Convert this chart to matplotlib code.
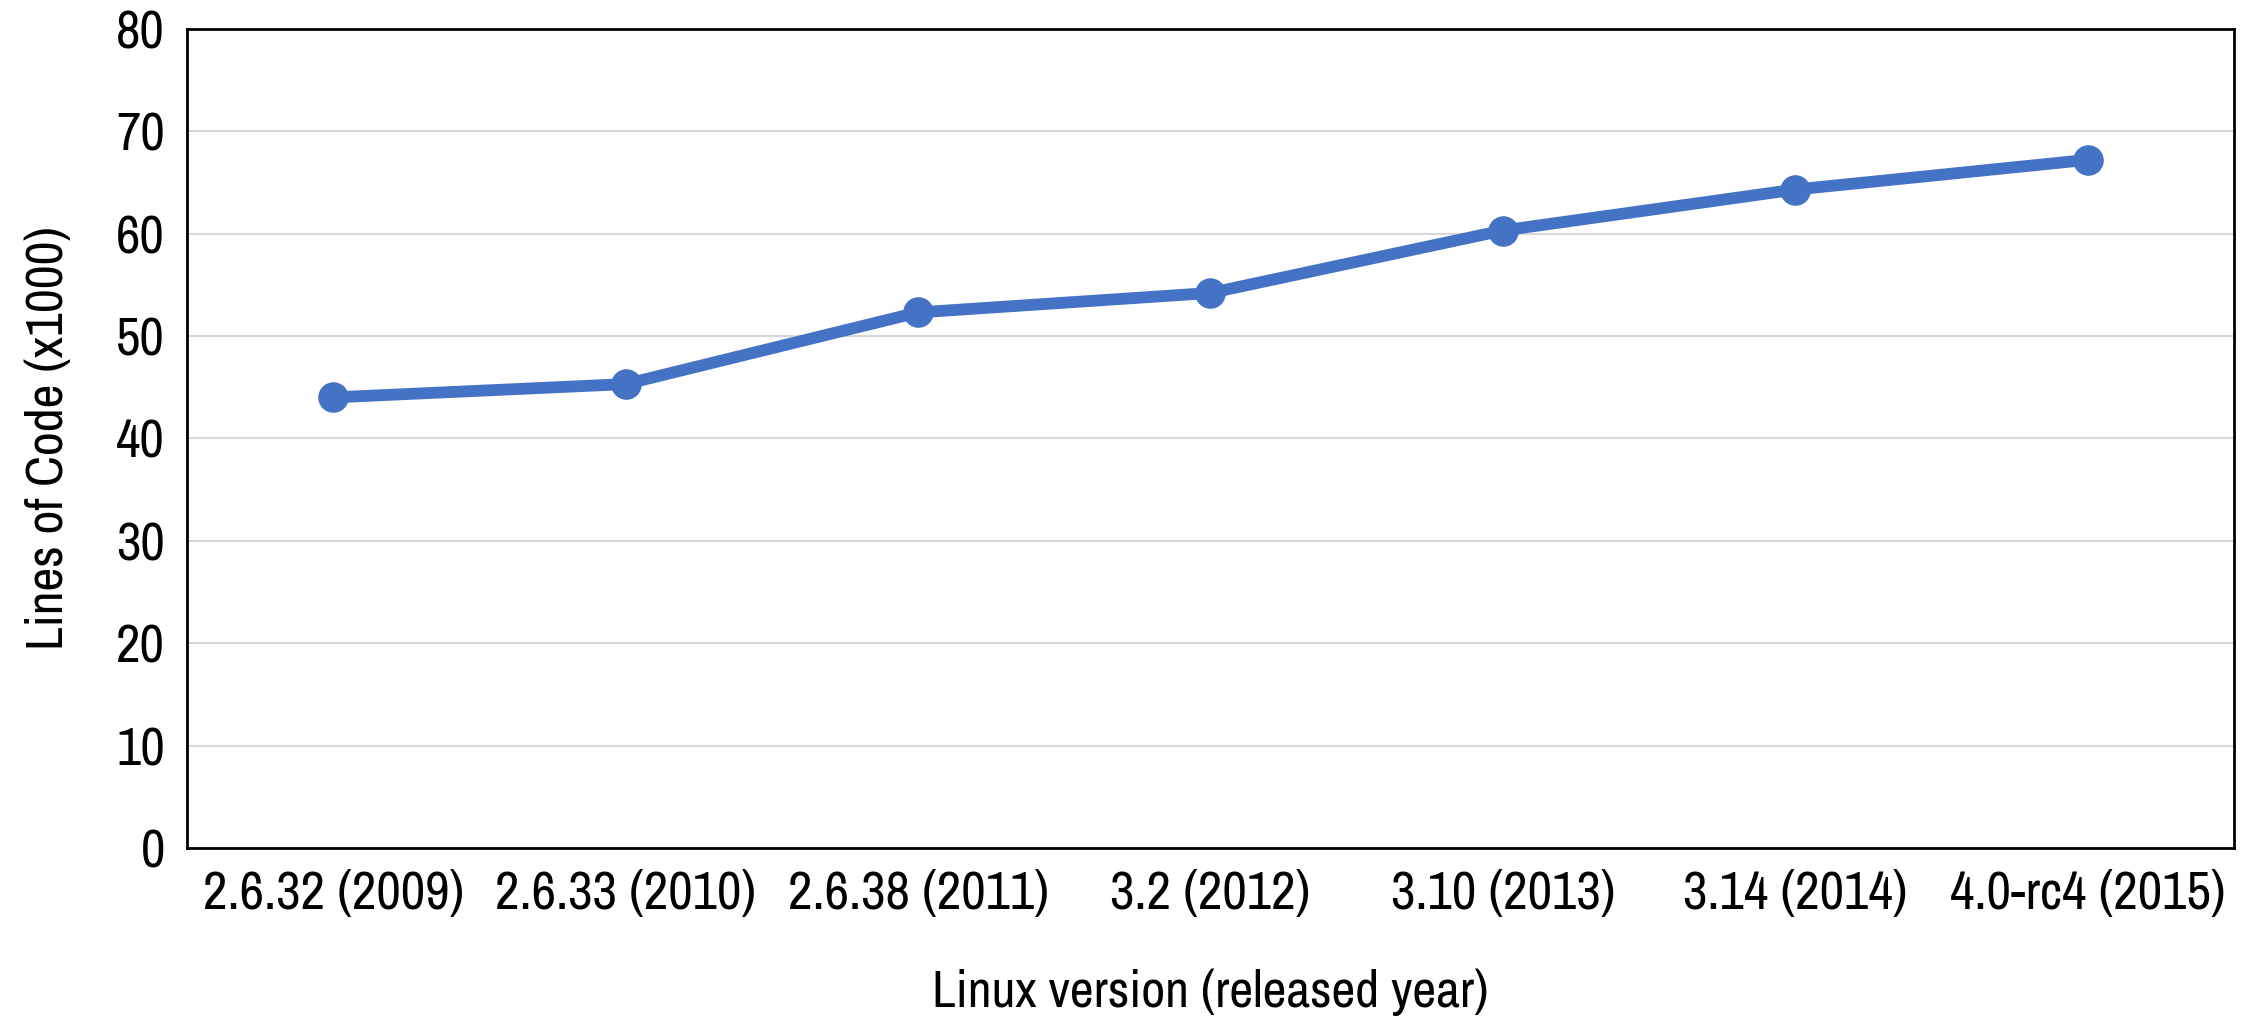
import matplotlib.pyplot as plt
from matplotlib import font_manager

versions = ['2.6.32 (2009)', '2.6.33 (2010)', '2.6.38 (2011)', '3.2 (2012)',
            '3.10 (2013)', '3.14 (2014)', '4.0-rc4 (2015)']
loc = [44.0, 45.3, 52.3, 54.2, 60.3, 64.3, 67.2]   # lines of code (x1000)
yticks = [0, 10, 20, 30, 40, 50, 60, 70, 80]

# narrow font if there is one (regular weight), else condensed DejaVu
narrow = [f for f in font_manager.fontManager.ttflist
          if 'Narrow' in f.name and f.style == 'normal'
          and f.weight in (400, 'normal', 'regular')]
if narrow:
    fp = font_manager.FontProperties(fname=narrow[0].fname)
else:
    fp = font_manager.FontProperties(family='DejaVu Sans', stretch='condensed')

fig = plt.figure(figsize=(22.54, 10.29), dpi=100)
ax = fig.add_axes([0.083, 0.176, 0.908, 0.796])

x = range(len(versions))
ax.plot(x, loc, color='#4472C4', lw=8.5, marker='o', ms=21,
        solid_capstyle='round', zorder=3)

ax.set_xlim(-0.5, len(versions) - 0.5)
ax.set_ylim(0, 80)
ax.set_yticks(yticks)
ax.set_xticks(list(x))
ax.set_xticklabels(versions)
ax.tick_params(axis='both', length=0, pad=16)
for t in ax.get_xticklabels() + ax.get_yticklabels():
    t.set_fontproperties(fp)
    t.set_fontsize(38.5)
ax.yaxis.grid(True, color='#D9D9D9', lw=1.5)
ax.set_axisbelow(True)
for s in ax.spines.values():
    s.set_color('black')
    s.set_linewidth(2)

ax.set_xlabel('Linux version (released year)', fontproperties=fp,
              fontsize=37.5, labelpad=36)
ax.set_ylabel('Lines of Code (x1000)', fontproperties=fp,
              fontsize=37.5, labelpad=32)

fig.savefig('out.png', dpi=100)
